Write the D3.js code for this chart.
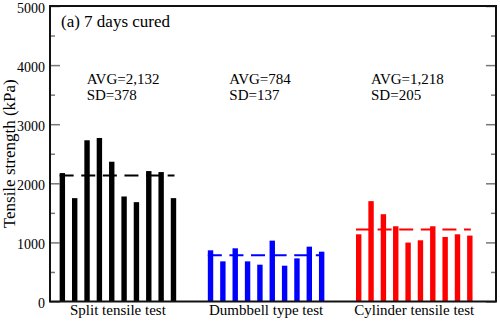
<!DOCTYPE html>
<html><head><meta charset="utf-8">
<script src="https://cdn.jsdelivr.net/npm/d3@7"></script>
<style>body{margin:0;background:#fff}svg{display:block}text{font-family:"Liberation Serif","Times New Roman",serif;fill:#000}</style>
</head><body><svg id="c" width="500" height="322"></svg>
<script>
const categories = ["Split tensile test", "Dumbbell type test", "Cylinder tensile test"];
const splitValues = [2173, 1749, 2728, 2767, 2365, 1777, 1681, 2207, 2190, 1749];
const dumbbellValues = [866, 679, 900, 679, 623, 1030, 606, 730, 928, 843];
const cylinderValues = [1137, 1698, 1477, 1273, 997, 1036, 1273, 1092, 1137, 1115];
const averages = [2132, 784, 1218];
const stdDevs = [378, 137, 205];
const colors = ["#000000", "#0000ff", "#ff0000"];
const yTicks = [0, 1000, 2000, 3000, 4000, 5000];
const yMinorTicks = [500, 1500, 2500, 3500, 4500];
const title = "(a) 7 days cured";
const yTitle = "Tensile strength (kPa)";

const series = [splitValues, dumbbellValues, cylinderValues];
const svg = d3.select("#c");
const L = 50, R = 496, T = 6, B = 301.5;
const y = d3.scaleLinear().domain([0, 5000]).range([B, T]);
const x = d3.scaleLinear().domain([-1, 35.2]).range([L, 497]);
const bw = 5.4;

// bars
series.forEach((vals, g) => {
  svg.append("g").selectAll("rect").data(vals).join("rect")
    .attr("x", (d, i) => x(g * 12 + i) - bw / 2)
    .attr("y", d => y(d))
    .attr("width", bw)
    .attr("height", d => y(0) - y(d))
    .attr("fill", colors[g]);
  // average dashed line
  svg.append("line")
    .attr("x1", x(g * 12) - bw / 2).attr("x2", x(g * 12 + 9) + 1)
    .attr("y1", y(averages[g])).attr("y2", y(averages[g]))
    .attr("stroke", colors[g]).attr("stroke-width", 2)
    .attr("stroke-dasharray", "14,7.6");
  // category label
  svg.append("text")
    .attr("x", x(g * 12 + 4.5)).attr("y", 315)
    .attr("text-anchor", "middle").attr("font-size", 15)
    .text(categories[g]);
});

// stats text
const statX = [86.7, 229.3, 371];
averages.forEach((a, g) => {
  const t = svg.append("text").attr("font-size", 15);
  t.append("tspan").attr("x", statX[g]).attr("y", 84).text("AVG=" + d3.format(",")(a));
  t.append("tspan").attr("x", statX[g]).attr("y", 100).text("SD=" + stdDevs[g]);
});

// axes
const gl = svg.append("g").attr("transform", `translate(${L},0)`)
  .call(d3.axisLeft(y).tickValues(yTicks).tickSize(-10).tickPadding(5).tickFormat(d3.format("d")));
const glm = svg.append("g").attr("transform", `translate(${L},0)`)
  .call(d3.axisLeft(y).tickValues(yMinorTicks).tickSize(-5).tickFormat(""));
const gr = svg.append("g").attr("transform", `translate(${R},0)`)
  .call(d3.axisRight(y).tickValues(yTicks).tickSize(-10).tickFormat(""));
const grm = svg.append("g").attr("transform", `translate(${R},0)`)
  .call(d3.axisRight(y).tickValues(yMinorTicks).tickSize(-5).tickFormat(""));
[gl, glm, gr, grm].forEach(g => {
  g.select(".domain").remove();
  g.selectAll(".tick line").attr("stroke", "#777").attr("stroke-width", 1.5);
});
gl.selectAll(".tick text").attr("font-size", 14)
  .attr("font-family", '"Liberation Serif","Times New Roman",serif').attr("fill", "#000").attr("dy", "0.45em");

// frame
svg.append("rect").attr("x", L).attr("y", T).attr("width", R - L).attr("height", B - T)
  .attr("fill", "none").attr("stroke", "#111").attr("stroke-width", 2);

// titles
svg.append("text").attr("x", 61).attr("y", 27).attr("font-size", 17).text(title);
svg.append("text").attr("transform", `translate(15,${(T + B) / 2}) rotate(-90)`)
  .attr("text-anchor", "middle").attr("font-size", 17).text(yTitle);
</script></body></html>
